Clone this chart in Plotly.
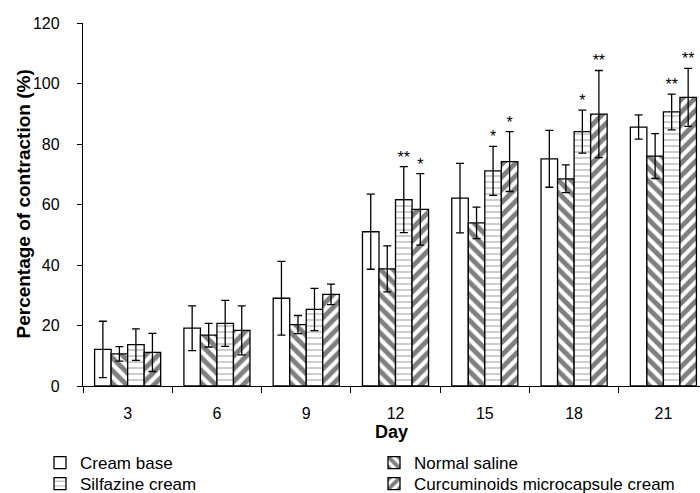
import plotly.graph_objects as go

days = ["3", "6", "9", "12", "15", "18", "21"]
series_names = ["Cream base", "Normal saline", "Silfazine cream", "Curcuminoids microcapsule cream"]

cream_base = [12.1, 19.1, 29.0, 51.0, 62.1, 75.1, 85.6]
cream_base_err = [9.3, 7.4, 12.2, 12.4, 11.5, 9.4, 4.0]

normal_saline = [10.6, 16.8, 20.3, 38.7, 53.9, 68.5, 76.0]
normal_saline_err = [2.4, 3.9, 3.0, 7.6, 5.2, 4.6, 7.4]

silfazine = [13.7, 20.7, 25.3, 61.6, 71.1, 84.1, 90.6]
silfazine_err = [5.2, 7.6, 7.0, 10.9, 8.1, 7.1, 5.9]

curcuminoids = [11.1, 18.4, 30.3, 58.4, 74.2, 89.9, 95.4]
curcuminoids_err = [6.3, 8.1, 3.4, 11.8, 9.9, 14.4, 9.6]

silfazine_sig = ["", "", "", "**", "*", "*", "**"]
curcuminoids_sig = ["", "", "", "*", "*", "**", "**"]

values = [cream_base, normal_saline, silfazine, curcuminoids]
errors = [cream_base_err, normal_saline_err, silfazine_err, curcuminoids_err]

patterns = [
    dict(shape=""),
    dict(shape="\\", fgcolor="black", bgcolor="white", size=9, solidity=0.55),
    dict(shape="-", fgcolor="#555555", bgcolor="white", size=6, solidity=0.2),
    dict(shape="/", fgcolor="black", bgcolor="white", size=9, solidity=0.55),
]
legend_ids = ["legend", "legend3", "legend2", "legend4"]

fig = go.Figure()
for name, vals, errs, pat, lg in zip(series_names, values, errors, patterns, legend_ids):
    fig.add_trace(go.Bar(
        x=days, y=vals, name=name, legend=lg,
        marker=dict(color="white", pattern=pat, line=dict(color="black", width=1.3)),
        error_y=dict(type="data", array=errs, visible=True, color="black", thickness=1.3, width=4),
    ))

# significance markers on an overlaid numeric axis aligned with the category axis
bargap = 0.26
n = len(series_names)
bw = (1 - bargap) / n
for idx, (sig, vals, errs) in zip([2, 3], [(silfazine_sig, silfazine, silfazine_err),
                                          (curcuminoids_sig, curcuminoids, curcuminoids_err)]):
    off = (idx - (n - 1) / 2) * bw
    xs, ys, ts = [], [], []
    for i, s in enumerate(sig):
        if s:
            xs.append(i + off)
            ys.append(vals[i] + errs[i])
            ts.append(s)
    fig.add_trace(go.Scatter(
        x=xs, y=ys, text=ts, mode="text", textposition="top center",
        textfont=dict(size=16, color="black", family="Liberation Sans"),
        xaxis="x2", yaxis="y", showlegend=False, cliponaxis=False, hoverinfo="skip",
    ))

leg_common = dict(xref="container", yref="container", xanchor="left", yanchor="middle",
                  font=dict(size=17, family="Liberation Sans, Arial, sans-serif"),
                  bgcolor="rgba(0,0,0,0)", borderwidth=0)

xrange = [-0.5, 6.41]

fig.update_layout(
    width=700, height=493,
    barmode="group", bargap=bargap, bargroupgap=0,
    plot_bgcolor="white", paper_bgcolor="white",
    margin=dict(l=83, r=0, t=23, b=107, autoexpand=False),
    font=dict(family="Liberation Sans, Arial, sans-serif", size=16, color="black"),
    showlegend=True,
    legend=dict(x=40 / 700, y=1 - 463 / 493, **leg_common),
    legend2=dict(x=40 / 700, y=1 - 484 / 493, **leg_common),
    legend3=dict(x=374 / 700, y=1 - 463 / 493, **leg_common),
    legend4=dict(x=374 / 700, y=1 - 484 / 493, **leg_common),
    xaxis=dict(
        type="category", range=xrange,
        title=dict(text="<b>Day</b>", font=dict(size=18), standoff=0),
        showline=True, linecolor="black", linewidth=1.3,
        ticks="outside", tickson="boundaries", ticklen=6, tickcolor="black",
        showgrid=False, tickfont=dict(size=16), ticklabelstandoff=13,
    ),
    xaxis2=dict(
        overlaying="x", range=xrange, visible=False, showgrid=False, zeroline=False,
    ),
    yaxis=dict(
        range=[0, 120], dtick=20,
        showline=True, linecolor="black", linewidth=1.3,
        ticks="outside", ticklen=5, tickcolor="black",
        showgrid=False, zeroline=False, tickfont=dict(size=16), ticklabelstandoff=14,
    ),
    annotations=[dict(
        text="<b>Percentage of contraction (%)</b>", textangle=-90,
        xref="paper", yref="paper", x=0, y=0.5, xshift=-60, xanchor="center", yanchor="middle",
        showarrow=False, font=dict(size=19),
    )],
)

fig.write_html("out.html", config={"displayModeBar": False},
               post_script="document.body.style.margin='0';")
